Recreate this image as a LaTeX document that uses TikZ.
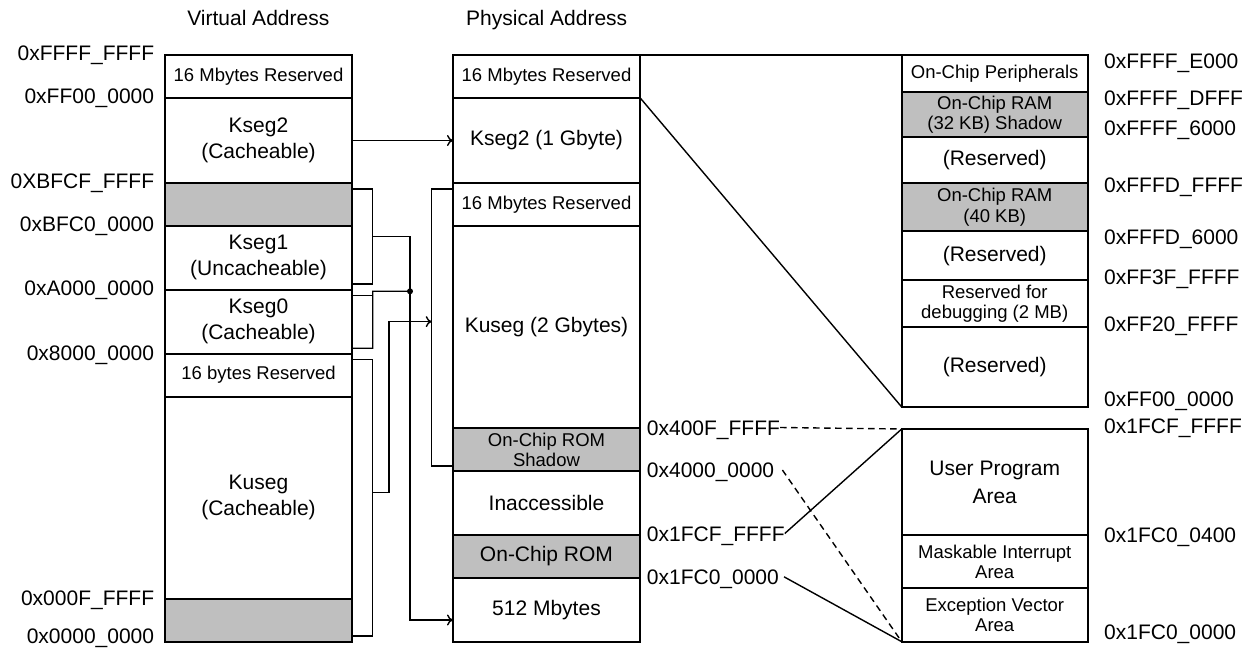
\documentclass[tikz,border=0pt]{standalone}
\usepackage{fontspec}
\setmainfont{Liberation Sans}
\usetikzlibrary{positioning,arrows.meta}
\newcommand\fsA{\fontsize{21}{26}\selectfont}
\newcommand\fsB{\fontsize{18.5}{20.5}\selectfont}
\tikzset{
  cell/.style={draw,line width=1.8pt,inner sep=0pt,outer sep=0pt,minimum width=187pt,align=center,font=\fsA},
  grey/.style={cell,fill=black!25},
  lbl/.style={font=\fsA,inner sep=0pt,text height=15pt,text depth=0pt},
  con/.style={line width=1.4pt,>={To[length=6pt,width=11pt]}},
  dline/.style={con,dash pattern=on 6.5pt off 4.5pt},
}
\begin{document}
\begin{tikzpicture}[x=1pt,y=-1pt]
\pgfmathsetmacro{\vX}{165}
\pgfmathsetmacro{\pX}{453}
\pgfmathsetmacro{\rX}{901.7}
\pgfmathsetmacro{\tY}{55}
\pgfmathsetmacro{\dB}{5.5}
\pgfmathsetmacro{\bW}{20.7}
\useasboundingbox (0,0) rectangle (1251,648);
%
\node[lbl] (tV) at (258.3,18) {Virtual Address};
\node[lbl] (tP) at (546.7,18) {Physical Address};
%
\node[cell,font=\fsB,minimum height=42.7pt,anchor=north west] (vR16) at (\vX,\tY) {16 Mbytes Reserved};
\node[cell,minimum height=85.6pt,below=0pt of vR16] (vK2) {Kseg2\\(Cacheable)};
\node[grey,minimum height=42.7pt,below=0pt of vK2] (vG1) {};
\node[cell,minimum height=63.7pt,below=0pt of vG1] (vK1) {Kseg1\\(Uncacheable)};
\node[cell,minimum height=64pt,below=0pt of vK1] (vK0) {Kseg0\\(Cacheable)};
\node[cell,font=\fsB,minimum height=43pt,below=0pt of vK0] (vR0) {16 bytes Reserved};
\node[cell,minimum height=202.3pt,below=0pt of vR0] (vKu) {Kuseg\\(Cacheable)};
\node[grey,minimum height=42.7pt,below=0pt of vKu] (vG0) {};
%
\node[lbl,anchor=east] (aV1) at (154.3,53.3) {0xFFFF\_FFFF};
\node[lbl,anchor=east] (aV2) at (154.3,95.8) {0xFF00\_0000};
\node[lbl,anchor=east] (aV3) at (154.3,181) {0XBFCF\_FFFF};
\node[lbl,anchor=east] (aV4) at (154.3,224) {0xBFC0\_0000};
\node[lbl,anchor=east] (aV5) at (154.3,288) {0xA000\_0000};
\node[lbl,anchor=east] (aV6) at (154.3,352.5) {0x8000\_0000};
\node[lbl,anchor=east] (aV7) at (154.3,597.7) {0x000F\_FFFF};
\node[lbl,anchor=east] (aV8) at (154.3,635.8) {0x0000\_0000};
%
\node[cell,font=\fsB,minimum height=42.7pt,anchor=north west] (pR1) at (\pX,\tY) {16 Mbytes Reserved};
\node[cell,minimum height=85.6pt,below=0pt of pR1] (pK2) {Kseg2 (1 Gbyte)};
\node[cell,font=\fsB,minimum height=42.7pt,below=0pt of pK2] (pR2) {16 Mbytes Reserved};
\node[cell,minimum height=202.3pt,below=0pt of pR2] (pKu) {Kuseg (2 Gbytes)};
\node[grey,font=\fsB,minimum height=42.7pt,below=0pt of pKu] (pRS) {On-Chip ROM\\Shadow};
\node[cell,minimum height=64pt,below=0pt of pRS] (pIn) {Inaccessible};
\node[grey,minimum height=42.7pt,below=0pt of pIn] (pRom) {On-Chip ROM};
\node[cell,minimum height=64pt,below=0pt of pRom] (p512) {512 Mbytes};
%
\node[lbl,anchor=west] (m1) at (646.7,427.5) {0x400F\_FFFF};
\node[lbl,anchor=west] (m2) at (646.7,470) {0x4000\_0000};
\node[lbl,anchor=west] (m3) at (646.7,533.5) {0x1FCF\_FFFF};
\node[lbl,anchor=west] (m4) at (646.7,576.8) {0x1FC0\_0000};
%
\node[cell,font=\fsB,minimum width=186pt,minimum height=37.3pt,anchor=north west] (rP) at (\rX,\tY) {On-Chip Peripherals};
\node[grey,font=\fsB,minimum width=186pt,minimum height=45pt,below=0pt of rP] (rS) {On-Chip RAM\\(32 KB) Shadow};
\node[cell,minimum width=186pt,minimum height=46pt,below=0pt of rS] (rR1) {(Reserved)};
\node[grey,font=\fsB,minimum width=186pt,minimum height=48pt,below=0pt of rR1] (rRam) {On-Chip RAM\\(40 KB)};
\node[cell,minimum width=186pt,minimum height=48.7pt,below=0pt of rRam] (rR2) {(Reserved)};
\node[cell,font=\fsB,minimum width=186pt,minimum height=47.3pt,below=0pt of rR2] (rDbg) {Reserved for\\debugging (2 MB)};
\node[cell,minimum width=186pt,minimum height=79.7pt,below=0pt of rDbg] (rR3) {(Reserved)};
%
\node[lbl,anchor=west] (b1) at (1104,60.8) {0xFFFF\_E000};
\node[lbl,anchor=west] (b2) at (1104,98.3) {0xFFFF\_DFFF};
\node[lbl,anchor=west] (b3) at (1104,127.5) {0xFFFF\_6000};
\node[lbl,anchor=west] (b4) at (1104,185) {0xFFFD\_FFFF};
\node[lbl,anchor=west] (b5) at (1104,237) {0xFFFD\_6000};
\node[lbl,anchor=west] (b6) at (1104,277) {0xFF3F\_FFFF};
\node[lbl,anchor=west] (b7) at (1104,323.5) {0xFF20\_FFFF};
\node[lbl,anchor=west] (b8) at (1104,399) {0xFF00\_0000};
%
\node[cell,font=\fontsize{21}{28}\selectfont,minimum width=186pt,minimum height=106pt,anchor=north west] (rU) at (\rX,429) {User Program\\Area};
\node[cell,font=\fsB,minimum width=186pt,minimum height=53.3pt,below=0pt of rU] (rM) {Maskable Interrupt\\Area};
\node[cell,font=\fsB,minimum width=186pt,minimum height=53.4pt,below=0pt of rM] (rE) {Exception Vector\\Area};
%
\node[lbl,anchor=west] (c1) at (1104,425.8) {0x1FCF\_FFFF};
\node[lbl,anchor=west] (c2) at (1104,534.8) {0x1FC0\_0400};
\node[lbl,anchor=west] (c3) at (1104,631.8) {0x1FC0\_0000};
%
\draw[con,->] (vK2.east) -- (pK2.west);
\draw[con] (vG1.north east) ++(0,\dB) -| ++(\bW,95.3) coordinate (kA) -- ++(-\bW,0);
\draw[con,->] (kA) ++(0,-47.6) -- ++(37.3,0) coordinate (kJ) |- ([yshift=-10.3pt]p512.west);
\draw[con] (vK0.north east) ++(0,\dB) -- ++(\bW,0);
\draw[con] (vK0.south east) ++(0,-\dB) -| ++(\bW,-57) -- (kJ |- 0,291.3) coordinate (kD);
\fill (kD) circle (3pt);
\draw[con] (vR0.north east) ++(0,\dB) -| ++(\bW,276.7) coordinate (kB) -- ++(-\bW,0);
\draw[con] (pR2.north west) ++(0,\dB) -- ++(-21.3,0) -- ++(0,277) -- ++(21.3,0);
\draw[con,->] (kB) ++(0,-143.7) -- ++(16.3,0) |- ++(42.7,-170.6);
%
\draw[line width=1.8pt] (pR1.north east) -- (rP.north west);
\draw[con] (pK2.north east) -- (rR3.south west);
\draw[dline] (m1.east) -- (rU.north west);
\draw[con] (m3.east) -- (rU.north west);
\draw[dline] ([xshift=8pt]m2.east) -- (rE.south west);
\draw[con] ([xshift=5pt]m4.east) -- (rE.south west);
\end{tikzpicture}
\end{document}
